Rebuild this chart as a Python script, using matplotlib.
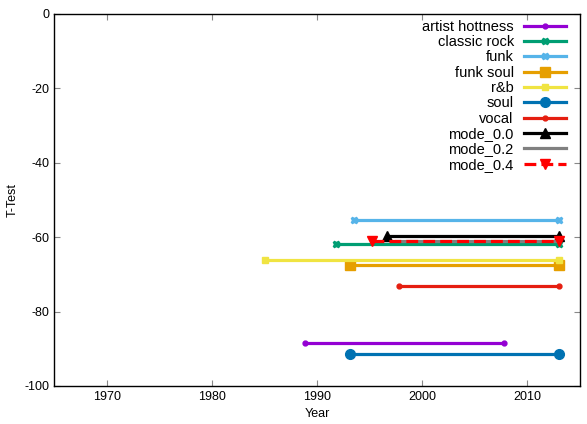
import matplotlib
matplotlib.use("Agg")
import matplotlib.pyplot as plt

plt.rcParams['font.family'] = ['Liberation Sans', 'DejaVu Sans']
plt.rcParams['axes.unicode_minus'] = False

# series: label, start year, end year, t-test value
labels = ['artist hottness', 'classic rock', 'funk', 'funk soul', 'r&b',
          'soul', 'vocal', 'mode_0.0', 'mode_0.2', 'mode_0.4']
start_year = [1988.9, 1991.8, 1993.5, 1993.1, 1985.1,
              1993.1, 1997.8, 1996.7, 1997.5, 1995.2]
end_year = [2007.8, 2013.0, 2013.0, 2013.0, 2013.0,
            2013.0, 2013.0, 2013.0, 2013.0, 2013.0]
ttest = [-88.4, -61.9, -55.4, -67.6, -66.1,
         -91.5, -73.1, -59.6, -61.0, -60.9]

colors = ['#9400d3', '#009e73', '#56b4e9', '#e69f00', '#f0e442',
          '#0072b2', '#e51e10', '#000000', '#808080', '#ff0000']
markers = ['o', 'X', 'X', 's', 's', 'o', 'o', '^', '.', 'v']
msizes = [3.5, 5, 5, 6.5, 4.5, 7, 3.5, 7, 2, 7]
styles = ['-'] * 9 + ['--']

fig = plt.figure(figsize=(5.87, 4.24), dpi=100)
ax = fig.add_axes([54 / 587, 38 / 424, 526 / 587, 372 / 424])

for i in range(len(labels)):
    ax.plot([start_year[i], end_year[i]], [ttest[i], ttest[i]],
            color=colors[i], marker=markers[i], markersize=msizes[i],
            linewidth=2.3, linestyle=styles[i], label=labels[i])

ax.set_xlim(1965, 2015)
ax.set_ylim(-100, 0)
ax.set_xticks([1970, 1980, 1990, 2000, 2010])
ax.set_yticks([-100, -80, -60, -40, -20, 0])
ax.tick_params(direction='in', top=True, right=True, length=4,
               labelsize=9, color='#888888')
for s in ax.spines.values():
    s.set_linewidth(1.0)
ax.set_xlabel('Year', fontsize=9)
ax.set_ylabel('T-Test', fontsize=9)

ax.legend(loc='upper right', frameon=False, markerfirst=False,
          fontsize=10.5, handlelength=2.9, labelspacing=0.09,
          borderaxespad=0.2, borderpad=0.2, handletextpad=0.7,
          bbox_to_anchor=(0.985, 1.0))

fig.savefig('out.png', dpi=100)
